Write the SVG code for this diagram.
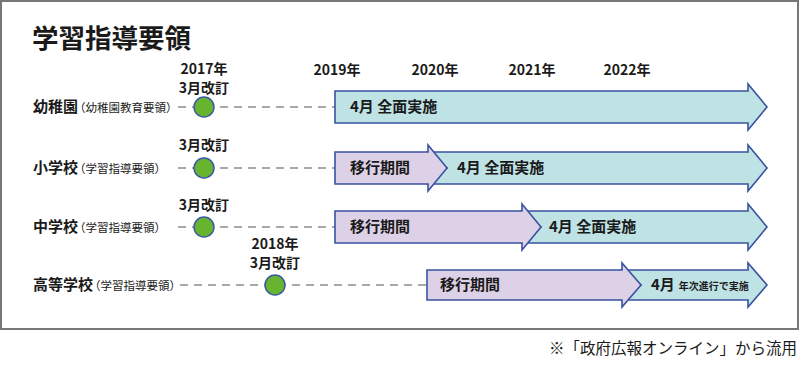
<svg xmlns="http://www.w3.org/2000/svg" width="800" height="369" viewBox="0 0 800 369">
<style>
text{font-family:"Noto Sans CJK JP","Noto Sans",sans-serif;fill:#1a1a1a}
.t{font-size:26.5px;font-weight:700}
.yr{font-size:14px;font-weight:700;text-anchor:middle}
.lb{font-size:15px;font-weight:700}
.sm{font-size:11.5px;font-weight:400}
.ar{font-size:15px;font-weight:700}
.cy{fill:#bfe2e5;stroke:#3a539f;stroke-width:1.6;stroke-linejoin:miter}
.pu{fill:#ddd1e7;stroke:#3a539f;stroke-width:1.6;stroke-linejoin:miter}
.dot{fill:#67b42f;stroke:#3a5aa3;stroke-width:1.5}
.ds{stroke:#a9a9a9;stroke-width:2;stroke-dasharray:8 6;fill:none}
</style>
<rect x="1" y="1" width="797" height="328" fill="#fff" stroke="#777" stroke-width="2"/>
<g id="title"><text class="t" x="32" y="48">学習指導要領</text></g>
<g id="years">
<text class="yr" x="337" y="75">2019年</text>
<text class="yr" x="435" y="75">2020年</text>
<text class="yr" x="532" y="75">2021年</text>
<text class="yr" x="627" y="75">2022年</text>
</g>
<g id="connectors">
<line class="ds" x1="178" y1="107" x2="335" y2="107"/>
<line class="ds" x1="178" y1="168" x2="335" y2="168"/>
<line class="ds" x1="178" y1="227" x2="335" y2="227"/>
<line class="ds" x1="180" y1="285" x2="427" y2="285"/>
</g>
<g id="row-kindergarten">
<text class="lb" x="33" y="112">幼稚園<tspan class="sm" dx="-4">（幼稚園教育要領）</tspan></text>
<text class="yr" x="204" y="74">2017年</text>
<text class="yr" x="204" y="93">3月改訂</text>
<circle class="dot" cx="204" cy="107" r="10"/>
<polygon class="cy" points="335,91 748,91 748,84 767,107 748,130 748,123 335,123"/>
<text class="ar" x="350" y="112">4月 全面実施</text>
</g>
<g id="row-elementary">
<text class="lb" x="33" y="173">小学校<tspan class="sm" dx="-4">（学習指導要領）</tspan></text>
<text class="yr" x="204" y="150">3月改訂</text>
<circle class="dot" cx="204" cy="168" r="10"/>
<polygon class="cy" points="428,152 748,152 748,145 767,168 748,191 748,184 428,184 447,168"/>
<polygon class="pu" points="335,152 428,152 428,145 447,168 428,191 428,184 335,184"/>
<text class="ar" x="350" y="173">移行期間</text>
<text class="ar" x="457" y="173">4月 全面実施</text>
</g>
<g id="row-junior">
<text class="lb" x="33" y="232">中学校<tspan class="sm" dx="-4">（学習指導要領）</tspan></text>
<text class="yr" x="204" y="210">3月改訂</text>
<circle class="dot" cx="204" cy="227" r="10"/>
<polygon class="cy" points="522,211 748,211 748,204 767,227 748,250 748,243 522,243 541,227"/>
<polygon class="pu" points="335,211 522,211 522,204 541,227 522,250 522,243 335,243"/>
<text class="ar" x="350" y="232">移行期間</text>
<text class="ar" x="549" y="232">4月 全面実施</text>
</g>
<g id="row-high">
<text class="lb" x="33" y="290">高等学校<tspan class="sm" dx="-4">（学習指導要領）</tspan></text>
<text class="yr" x="275" y="249">2018年</text>
<text class="yr" x="275" y="268">3月改訂</text>
<circle class="dot" cx="275" cy="285" r="10"/>
<polygon class="cy" points="622,270 748,270 748,263 767,285 748,307 748,300 622,300 641,285"/>
<polygon class="pu" points="427,270 622,270 622,263 641,285 622,307 622,300 427,300"/>
<text class="ar" x="440" y="290">移行期間</text>
<text class="ar" x="651" y="290">4月<tspan font-size="10" dx="4">年次進行で実施</tspan></text>
</g>
<g id="footer"><text x="797" y="354" font-size="15.5" text-anchor="end">※「政府広報オンライン」から流用</text></g>
</svg>
